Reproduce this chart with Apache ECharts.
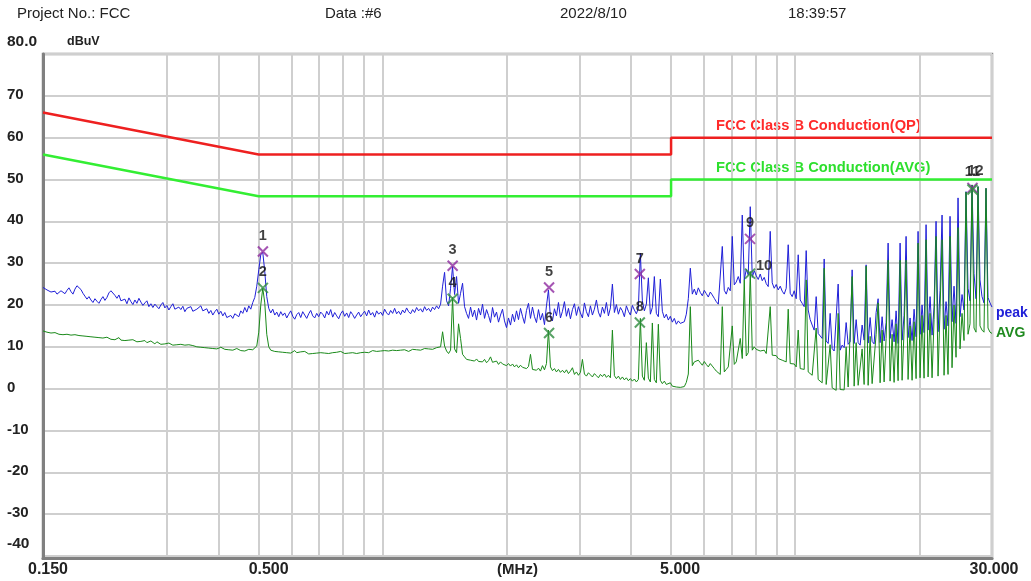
<!DOCTYPE html>
<html>
<head>
<meta charset="utf-8">
<script src="https://cdn.jsdelivr.net/npm/echarts@6/dist/echarts.min.js"></script>
<style>html,body{margin:0;padding:0;background:#fff}#c{width:1031px;height:581px}</style>
</head>
<body>
<div id="c"></div>
<script>
// ---- data ----
const sweepStartMHz = 0.15;
const sweepStopMHz = 30;

const xTickLabels = [0.15, 0.5, 5, 30];
const xGridValues = [0.15, 0.3, 0.4, 0.5, 0.6, 0.7, 0.8, 0.9, 1, 2, 3, 4, 5, 6, 7, 8, 9, 10, 20, 30];
const yTickLabels = [-40, -30, -20, -10, 0, 10, 20, 30, 40, 50, 60, 70, 80];

const qpLimitFreq = [0.15, 0.5, 5, 5, 30];
const qpLimitLevel = [66, 56, 56, 60, 60];
const avLimitFreq = [0.15, 0.5, 5, 5, 30];
const avLimitLevel = [56, 46, 46, 50, 50];

// peak trace (dBuV), one value per sweep point
const peakLevel = [
24.2,24.0,23.6,23.9,23.1,22.8,23.3,22.6,22.9,23.4,23.0,22.7,23.5,24.1,23.2,22.6,23.8,24.6,24.9,23.7,
22.8,22.1,21.4,22.0,21.2,20.6,21.5,20.9,20.4,21.3,22.0,21.1,21.8,22.9,23.4,23.6,22.3,21.6,22.4,21.0,
20.6,21.4,20.3,21.7,20.8,20.1,21.2,20.4,21.6,20.7,19.9,20.5,21.0,19.6,20.3,19.4,20.2,19.8,19.1,20.0,
20.6,19.3,19.9,18.8,19.6,20.3,19.0,18.6,19.5,18.9,19.7,18.4,19.2,18.8,19.6,18.5,18.1,19.0,18.7,19.8,
18.6,18.2,19.1,18.0,18.7,17.6,18.4,19.0,17.8,18.5,17.4,18.2,17.0,16.6,17.5,16.8,17.9,18.3,17.2,18.6,
18.0,19.4,18.3,19.8,19.0,20.6,21.8,24.5,28.4,32.0,32.6,28.0,22.0,19.2,18.1,19.0,17.6,18.3,17.2,18.4,
17.5,18.1,16.9,17.8,18.6,17.3,16.6,17.7,18.2,17.0,18.4,17.6,16.8,17.9,18.7,17.4,16.9,18.0,17.2,18.3,
17.8,16.9,18.5,17.6,18.9,17.1,18.2,17.4,16.7,17.9,18.6,17.3,18.1,17.0,18.4,17.7,16.8,17.6,18.3,17.2,
17.9,18.5,17.4,18.8,17.6,18.2,17.1,18.6,17.8,18.3,17.5,19.0,18.1,17.6,18.7,18.0,19.2,17.9,18.5,17.7,
18.8,18.1,19.3,18.4,17.9,18.9,18.2,19.4,18.6,19.1,18.3,19.6,18.7,19.2,18.4,19.5,18.9,19.8,19.1,20.2,
24.5,27.8,21.0,19.8,24.0,29.2,22.5,26.8,20.4,22.8,25.2,19.6,18.0,16.8,19.5,17.2,18.8,16.4,19.2,17.6,
20.2,16.8,18.9,17.5,15.8,19.4,17.1,18.3,15.9,17.6,19.0,16.2,14.6,16.9,15.2,17.8,16.0,18.6,16.5,19.2,
17.3,15.6,18.7,20.4,16.8,19.5,17.2,15.8,18.9,16.4,18.0,15.3,19.8,23.6,17.0,16.2,19.1,17.4,20.6,16.9,
18.5,20.8,17.3,19.2,16.7,18.9,20.3,17.5,19.6,18.1,16.9,20.5,18.4,17.2,19.8,17.6,19.0,21.2,18.3,17.1,
19.5,18.0,20.6,17.4,19.3,25.0,18.2,20.1,17.8,19.4,18.6,17.2,19.8,18.5,17.6,19.9,18.8,17.9,19.2,32.4,
21.0,18.6,20.2,26.5,17.8,19.4,26.8,18.0,17.2,26.2,18.5,16.9,17.8,16.4,17.3,15.9,16.8,15.4,16.2,15.6,
15.2,16.0,17.8,21.5,28.8,22.6,23.8,22.4,24.1,23.0,22.2,23.5,22.7,21.9,23.1,22.4,21.6,20.8,20.2,19.8,
34.0,23.5,22.6,24.2,23.4,36.4,24.8,25.5,26.8,25.2,41.5,26.0,28.5,27.2,43.5,26.6,28.2,27.0,26.1,27.4,
25.8,26.6,25.1,24.4,37.6,25.3,24.0,24.9,23.6,24.5,23.3,22.6,24.0,34.4,22.8,22.0,23.4,21.5,32.0,21.2,
20.4,19.6,33.0,18.8,16.5,15.2,14.0,22.0,13.2,12.6,12.0,31.0,11.4,10.8,18.0,9.6,9.0,8.6,25.0,9.2,
10.4,9.8,15.8,10.6,11.2,28.4,10.8,16.5,11.0,10.4,15.2,11.6,29.6,10.9,17.0,11.3,10.7,18.2,21.5,11.0,
17.2,11.4,15.8,34.8,12.0,16.5,11.2,18.6,10.8,34.8,11.6,17.5,36.4,12.2,16.9,11.5,19.0,12.4,37.6,13.0,
20.0,13.4,39.2,14.0,22.0,12.8,19.5,40.0,13.6,23.5,41.5,14.2,20.8,15.0,41.2,16.0,24.5,15.6,45.6,17.2,
22.5,18.8,47.1,24.0,21.0,48.7,27.5,21.5,48.3,26.0,22.0,20.5,47.9,21.8,20.5,19.5
];

// average trace (dBuV), one value per sweep point
const avgLevel = [
13.8,13.6,13.5,13.6,13.3,13.2,13.4,13.1,13.0,13.2,12.9,12.8,13.0,12.7,12.8,12.6,12.9,12.5,12.7,12.4,
12.6,12.3,12.5,12.2,12.4,12.1,12.3,12.0,12.2,12.5,12.1,11.9,12.3,12.0,11.8,12.1,11.7,11.9,12.2,11.6,
11.8,11.5,11.9,11.6,11.3,11.7,11.4,11.2,11.6,11.3,11.1,11.5,11.0,10.8,11.4,11.0,10.7,11.2,10.9,10.6,
11.0,10.7,10.5,10.9,10.6,10.4,10.8,10.5,10.3,10.6,10.9,10.4,10.2,10.5,10.1,10.3,10.6,10.0,10.2,9.9,
10.1,9.8,10.0,9.7,9.9,9.6,9.8,9.5,9.7,9.9,9.6,9.4,9.7,9.3,9.5,9.2,9.4,9.6,9.3,9.1,
9.3,9.0,9.2,9.4,9.1,9.3,9.5,10.2,13.5,20.0,24.0,20.5,13.0,10.0,9.2,9.6,8.9,9.3,8.8,9.1,
8.7,9.0,8.6,8.9,8.5,8.8,9.1,8.6,8.4,8.8,8.5,8.9,8.6,8.3,8.7,8.4,8.8,8.5,8.2,8.6,
8.9,8.5,8.7,8.4,8.8,8.6,8.3,8.7,8.5,8.9,8.6,8.4,8.8,8.5,8.9,8.6,8.7,8.4,8.8,8.6,
8.9,8.7,9.0,8.6,8.8,9.1,8.7,8.9,8.6,9.0,8.8,9.1,8.7,9.0,8.8,9.2,8.9,9.1,8.8,9.2,
9.0,9.3,9.1,8.9,9.2,9.4,9.1,9.3,9.5,9.2,9.4,9.6,9.3,9.5,9.7,9.4,9.6,9.8,9.5,10.0,
13.6,10.2,9.0,8.4,9.2,21.8,9.5,8.6,15.5,12.0,8.2,7.6,7.0,7.4,6.8,7.2,6.6,7.1,6.5,6.9,
6.4,7.0,6.2,6.7,7.6,6.3,6.0,6.6,5.8,6.4,5.9,6.2,5.5,6.0,5.4,5.9,5.2,5.7,5.0,5.6,
5.1,5.4,4.8,5.3,8.2,4.6,5.0,4.4,4.9,4.2,5.5,4.5,6.0,14.0,5.2,4.3,4.8,4.0,4.6,3.9,
4.4,3.8,4.5,3.6,4.2,5.0,3.4,4.0,3.2,3.9,7.0,3.5,3.0,3.8,3.3,2.8,3.6,3.1,2.6,3.4,
2.9,3.5,2.7,3.2,2.6,14.0,3.1,2.4,3.0,2.2,2.8,2.1,2.6,1.9,2.4,1.8,2.3,1.6,2.2,16.8,
3.0,2.0,11.0,2.5,1.6,15.7,2.2,1.4,15.4,2.0,1.2,1.8,1.0,0.8,1.4,0.6,0.9,0.4,0.7,0.3,
0.2,0.5,1.5,3.5,19.6,5.5,6.4,6.0,6.8,6.2,5.6,6.5,5.8,5.2,6.0,5.4,4.8,4.2,3.8,3.4,
19.6,4.0,4.6,5.2,4.8,15.0,5.8,6.4,6.0,12.0,7.2,26.0,7.8,8.6,28.0,9.2,10.0,9.4,9.8,9.0,
8.8,9.2,8.4,8.6,19.6,8.0,7.6,7.9,7.2,7.5,6.8,7.0,6.4,19.0,6.0,5.6,5.9,5.2,14.0,4.8,
4.4,4.6,26.0,4.0,3.6,3.2,2.8,14.5,2.2,1.8,1.4,28.8,1.0,0.6,10.5,0.2,-0.2,-0.4,18.0,-0.2,
0.0,-0.3,10.0,0.4,0.2,26.8,0.6,11.0,0.8,0.5,9.5,1.0,29.3,0.8,12.5,1.2,0.9,13.0,20.5,1.4,
14.0,1.6,12.0,30.7,1.8,13.0,1.5,15.5,1.9,30.7,2.0,14.0,30.7,2.2,15.0,2.0,16.0,2.4,34.8,2.6,
17.5,2.5,35.6,2.8,18.0,2.6,16.5,36.4,3.0,19.0,35.6,3.2,17.5,3.4,36.4,5.0,20.0,7.5,38.5,9.5,
18.0,11.5,47.0,13.0,15.5,48.7,14.5,13.5,48.3,15.0,14.0,13.5,47.9,14.5,13.5,13.2
];

// measured markers
const peakMarkNames = ['1', '3', '5', '7', '9', '11'];
const peakMarkFreq = [0.512, 1.477, 2.53, 4.2, 7.77, 26.9];
const peakMarkLevel = [32.8, 29.4, 24.2, 27.4, 35.8, 48.0];
const avgMarkNames = ['2', '4', '6', '8', '10', '12'];
const avgMarkFreq = [0.512, 1.477, 2.53, 4.2, 7.77, 26.9];
const avgMarkLevel = [24.1, 21.5, 13.3, 15.8, 27.5, 47.6];

// ---- build ----
const N = peakLevel.length;
const lgA = Math.log10(sweepStartMHz), lgB = Math.log10(sweepStopMHz);
const sweepFreq = peakLevel.map((_, i) => Math.pow(10, lgA + (lgB - lgA) * i / (N - 1)));
const zip = (a, b) => a.map((v, i) => [v, b[i]]);

const FONT = 'Liberation Sans, Arial, sans-serif';
const xPad = {0.15: 10, 0.5: 20, 5: 18, 30: 4};
const xRich = {};
xTickLabels.forEach((v, i) => { xRich['x' + i] = {padding: [0, 0, 0, xPad[v] || 0], fontSize: 16, fontWeight: 'bold', color: '#222', fontFamily: FONT}; });

const xSymbol = 'path://M0 0L10 10M10 0L0 10';
const markLabel = {show: true, position: 'top', distance: 2, formatter: p => p.name, fontSize: 14.5, fontWeight: 'bold', color: '#111', fontFamily: FONT};

const chart = echarts.init(document.getElementById('c'), null, {renderer: 'canvas'});
chart.setOption({
  animation: false,
  backgroundColor: '#fff',
  grid: {left: 43, right: 39, top: 54, bottom: 22.5, show: true, borderColor: '#8c8c8c', borderWidth: 2.5,
         containLabel: false, outerBoundsMode: 'none'},
  xAxis: {
    type: 'log', logBase: 10, min: sweepStartMHz, max: sweepStopMHz,
    name: '(MHz)', nameLocation: 'middle', nameGap: 4, nameMoveOverlap: false,
    nameTextStyle: {fontSize: 15, fontWeight: 'bold', color: '#222', fontFamily: FONT, verticalAlign: 'top'},
    axisLine: {show: true, onZero: false, lineStyle: {color: '#808080', width: 3}},
    axisTick: {show: false, customValues: xGridValues},
    splitLine: {show: true, lineStyle: {color: '#cfcfcf', width: 2}},
    axisLabel: {
      customValues: xTickLabels, margin: 3, showMinLabel: true, showMaxLabel: true,
      formatter: v => { const i = xTickLabels.findIndex(t => Math.abs(t - v) < 1e-6); return '{x' + i + '|' + v.toFixed(3) + '}'; },
      rich: xRich
    }
  },
  yAxis: {
    type: 'value', min: -40.6, max: 80,
    axisLine: {show: true, onZero: false, lineStyle: {color: '#808080', width: 3}},
    axisTick: {show: false, customValues: yTickLabels},
    splitLine: {show: true, lineStyle: {color: '#cfcfcf', width: 2}},
    axisLabel: {
      customValues: yTickLabels, align: 'left', margin: 36, showMinLabel: true, showMaxLabel: true,
      formatter: v => v === 80 ? '{e|80.0}' : (v === -40 ? '{e|-40}' : '{n|' + v + '}'),
      rich: {
        n: {fontSize: 15, fontWeight: 'bold', color: '#222', fontFamily: FONT, padding: [0, 0, 2, 0]},
        e: {fontSize: 15.5, fontWeight: 'bold', color: '#222', fontFamily: FONT, padding: [0, 0, 24, 0]}
      }
    }
  },
  graphic: [
    {type: 'text', x: 17, y: 14, style: {text: 'Project No.: FCC', font: '15px ' + FONT, fill: '#222', verticalAlign: 'middle'}},
    {type: 'text', x: 325, y: 14, style: {text: 'Data :#6', font: '15px ' + FONT, fill: '#222', verticalAlign: 'middle'}},
    {type: 'text', x: 560, y: 14, style: {text: '2022/8/10', font: '15px ' + FONT, fill: '#222', verticalAlign: 'middle'}},
    {type: 'text', x: 788, y: 14, style: {text: '18:39:57', font: '15px ' + FONT, fill: '#222', verticalAlign: 'middle'}},
    {type: 'text', x: 67, y: 42, style: {text: 'dBuV', font: 'bold 12.5px ' + FONT, fill: '#222', verticalAlign: 'middle'}},
    {type: 'text', x: 716, y: 126, style: {text: 'FCC Class B Conduction(QP)', font: 'bold 14.7px ' + FONT, fill: '#ff2a2a', verticalAlign: 'middle'}},
    {type: 'text', x: 716, y: 168, style: {text: 'FCC Class B Conduction(AVG)', font: 'bold 14.7px ' + FONT, fill: '#2ddf2d', verticalAlign: 'middle'}},
    {type: 'text', x: 996, y: 313, style: {text: 'peak', font: 'bold 14px ' + FONT, fill: '#2020d8', verticalAlign: 'middle'}},
    {type: 'text', x: 996, y: 333, style: {text: 'AVG', font: 'bold 14px ' + FONT, fill: '#1f8a1f', verticalAlign: 'middle'}}
  ],
  series: [
    {type: 'line', name: 'peak', data: zip(sweepFreq, peakLevel), symbol: 'none', lineStyle: {color: '#1f1fd8', width: 1}, z: 3},
    {type: 'line', name: 'AVG', data: zip(sweepFreq, avgLevel), symbol: 'none', lineStyle: {color: '#1a8a1a', width: 1}, z: 4},
    {type: 'line', name: 'QP limit', data: zip(qpLimitFreq, qpLimitLevel), symbol: 'none', lineStyle: {color: '#ee2020', width: 2.5}, z: 5},
    {type: 'line', name: 'AVG limit', data: zip(avLimitFreq, avLimitLevel), symbol: 'none', lineStyle: {color: '#33ee33', width: 2.5}, z: 5},
    {type: 'scatter', name: 'peak marks', data: peakMarkFreq.map((f, i) => ({value: [f, peakMarkLevel[i]], name: peakMarkNames[i]})),
      symbol: xSymbol, symbolSize: 10, itemStyle: {color: 'rgba(0,0,0,0)', borderColor: '#8e2aa0', borderWidth: 2}, z: 6,
      label: markLabel},
    {type: 'scatter', name: 'avg marks', data: avgMarkFreq.map((f, i) => ({value: [f, avgMarkLevel[i]], name: avgMarkNames[i],
        label: avgMarkNames[i] === '10' ? {position: 'right', offset: [-2, -8]} : (avgMarkNames[i] === '12' ? {offset: [3, -3]} : {})})),
      symbol: xSymbol, symbolSize: 10, itemStyle: {color: 'rgba(0,0,0,0)', borderColor: '#2e8b3e', borderWidth: 2}, z: 6,
      label: markLabel}
  ]
});
</script>
</body>
</html>
